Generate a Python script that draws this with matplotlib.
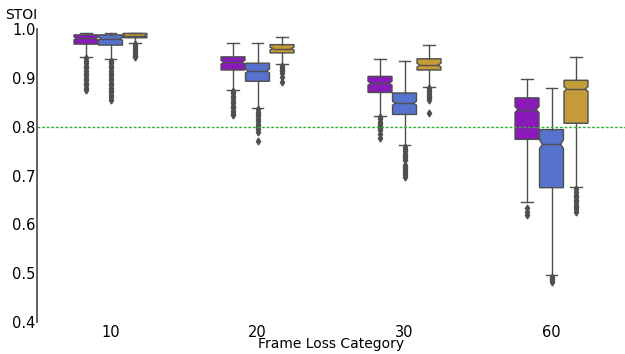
import matplotlib
matplotlib.use("Agg")
import matplotlib.pyplot as plt

categories = ["10", "20", "30", "60"]
colors = ["#891ab9", "#5573cd", "#c39b37"]
line_gray = "#4f4f4f"

# box statistics, one row per series, one value per category
medians = [[0.981, 0.932, 0.889, 0.835],
           [0.980, 0.914, 0.848, 0.764],
           [0.986, 0.960, 0.926, 0.877]]
q1s = [[0.969, 0.916, 0.870, 0.774],
       [0.967, 0.893, 0.825, 0.675],
       [0.982, 0.951, 0.916, 0.807]]
q3s = [[0.988, 0.943, 0.903, 0.859],
       [0.988, 0.930, 0.869, 0.794],
       [0.991, 0.968, 0.939, 0.895]]
whis_lo = [[0.943, 0.876, 0.822, 0.646],
           [0.938, 0.839, 0.762, 0.496],
           [0.971, 0.928, 0.882, 0.677]]
whis_hi = [[0.992, 0.971, 0.938, 0.898],
           [0.992, 0.971, 0.935, 0.880],
           [0.992, 0.984, 0.967, 0.942]]
notch_half = [[0.003, 0.004, 0.004, 0.006],
              [0.003, 0.004, 0.004, 0.009],
              [0.002, 0.003, 0.004, 0.005]]

fliers = [
    [[0.940, 0.935, 0.930, 0.925, 0.920, 0.915, 0.910, 0.905, 0.900, 0.895, 0.890, 0.885, 0.880, 0.876],
     [0.873, 0.868, 0.863, 0.858, 0.853, 0.848, 0.843, 0.838, 0.833, 0.828, 0.824],
     [0.820, 0.815, 0.810, 0.806, 0.802, 0.798, 0.793, 0.786, 0.776],
     [0.633, 0.626, 0.619]],
    [[0.935, 0.930, 0.925, 0.920, 0.915, 0.910, 0.905, 0.900, 0.895, 0.890, 0.885, 0.880, 0.875,
      0.870, 0.865, 0.860, 0.855],
     [0.836, 0.831, 0.826, 0.821, 0.816, 0.811, 0.806, 0.801, 0.796, 0.790, 0.771],
     [0.759, 0.755, 0.750, 0.745, 0.740, 0.735, 0.731, 0.721, 0.717, 0.713, 0.709, 0.705, 0.701, 0.697],
     [0.492, 0.488, 0.485, 0.482]],
    [[0.969, 0.965, 0.961, 0.957, 0.953, 0.949, 0.945, 0.943],
     [0.925, 0.921, 0.917, 0.913, 0.909, 0.901, 0.892],
     [0.879, 0.875, 0.871, 0.867, 0.863, 0.859, 0.855, 0.829],
     [0.672, 0.666, 0.660, 0.655, 0.650, 0.645, 0.640, 0.636, 0.631, 0.626]],
]

threshold = 0.8

fig = plt.figure(figsize=(6.25, 3.54), dpi=100)
ax = fig.add_axes([37 / 625, 1 - 322 / 354, 1 - 37 / 625, (322 - 29) / 354])

offsets = [-1 / 6, 0, 1 / 6]
box_w = 0.163
for s in range(3):
    stats = []
    for c in range(len(categories)):
        stats.append(dict(med=medians[s][c], q1=q1s[s][c], q3=q3s[s][c],
                          whislo=whis_lo[s][c], whishi=whis_hi[s][c],
                          cilo=medians[s][c] - notch_half[s][c],
                          cihi=medians[s][c] + notch_half[s][c],
                          fliers=fliers[s][c]))
    pos = [c + offsets[s] for c in range(len(categories))]
    res = ax.bxp(stats, positions=pos, widths=box_w, shownotches=True, patch_artist=True,
                 manage_ticks=False, capwidths=box_w * 0.5,
                 boxprops=dict(facecolor=colors[s], edgecolor=line_gray, linewidth=1.0),
                 whiskerprops=dict(color=line_gray, linewidth=1.0),
                 capprops=dict(color=line_gray, linewidth=1.0),
                 medianprops=dict(color=line_gray, linewidth=1.0),
                 flierprops=dict(marker="d", markersize=3.5, markerfacecolor=line_gray,
                                 markeredgecolor=line_gray, linestyle="none"))
    # shallower notches, like the reference
    for p, patch, ml in zip(pos, res["boxes"], res["medians"]):
        verts = patch.get_path().vertices
        verts[3, 0] = p + box_w * 0.38
        verts[8, 0] = p - box_w * 0.38
        ml.set_xdata([p - box_w * 0.38, p + box_w * 0.38])

ax.axhline(threshold, color="#33b033", linestyle=(0, (2, 1.3)), linewidth=1)

ax.set_xlim(-0.5, len(categories) - 0.5)
ax.set_ylim(0.4, 1.0)
ax.set_xticks(range(len(categories)))
ax.set_xticklabels(categories)
ax.set_yticks([0.4, 0.5, 0.6, 0.7, 0.8, 0.9, 1.0])
ax.set_yticklabels(["0.4", "0.5", "0.6", "0.7", "0.8", "0.9", "1.0"])
ax.tick_params(axis="both", length=0, labelsize=10.5)
ax.tick_params(axis="y", pad=1)
ax.tick_params(axis="x", pad=2)
for side in ["top", "right", "bottom"]:
    ax.spines[side].set_visible(False)
ax.spines["left"].set_color("#555555")
ax.spines["left"].set_linewidth(1.3)
ax.set_xlabel("Frame Loss Category", fontsize=10, labelpad=-2)
fig.text(5 / 625, 1 - 19 / 354, "STOI", fontsize=10, va="baseline")

fig.savefig("out.png", dpi=100)
